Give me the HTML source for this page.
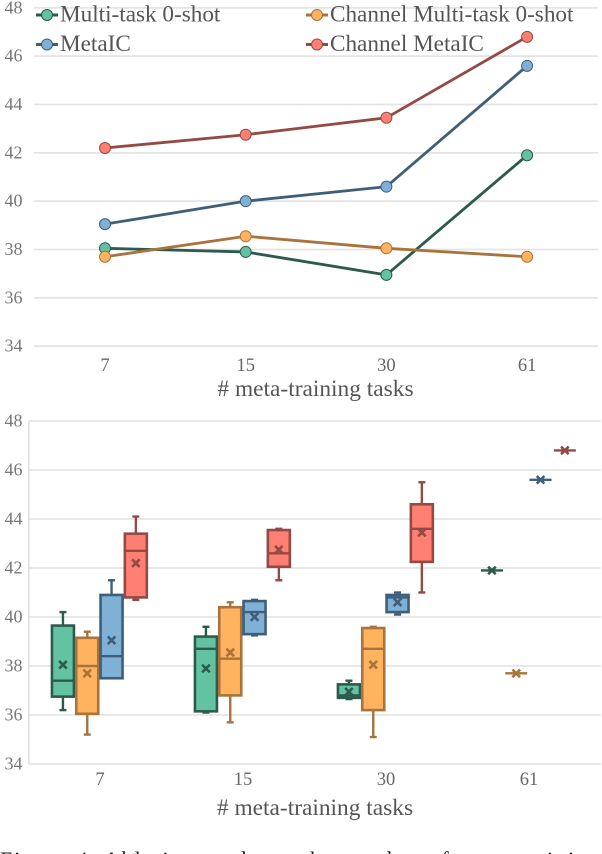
<!DOCTYPE html>
<html>
<head>
<meta charset="utf-8">
<title>Meta-training tasks charts</title>
<style>
html,body{margin:0;padding:0;background:#fff;width:602px;height:854px;overflow:hidden}
svg{display:block;font-family:"Liberation Serif",serif}
</style>
</head>
<body>
<svg id="root" width="602" height="854" viewBox="0 0 602 854" xmlns="http://www.w3.org/2000/svg">
  <text x="0" y="867" font-size="22" fill="#222" textLength="600">Figure 4: Ablation study on the number of meta-training</text>
</svg>
<script>
const categories = ['7', '15', '30', '61'];
const yTicks = [34, 36, 38, 40, 42, 44, 46, 48];
const seriesNames = ['Multi-task 0-shot', 'Channel Multi-task 0-shot', 'MetaIC', 'Channel MetaIC'];
const fills = ['#62c2a2', '#ffb35f', '#7fb0d6', '#ff7f72'];
const strokes = ['#2d5a4d', '#a8733c', '#3f5f78', '#944a44'];

const lineMultiTask = [38.05, 37.9, 36.95, 41.9];
const lineChannelMultiTask = [37.7, 38.55, 38.05, 37.7];
const lineMetaIC = [39.05, 40.0, 40.6, 45.6];
const lineChannelMetaIC = [42.2, 42.75, 43.45, 46.8];
const lineSeries = [lineMultiTask, lineChannelMultiTask, lineMetaIC, lineChannelMetaIC];

// each row: low whisker, q1, median, q3, high whisker, mean
const boxMultiTask = [[36.2,36.75,37.4,39.65,40.2,38.05],[36.1,36.15,38.7,39.2,39.6,37.9],[36.65,36.7,36.8,37.25,37.4,36.95],[41.9,41.9,41.9,41.9,41.9,41.9]];
const boxChannelMultiTask = [[35.2,36.05,38,39.15,39.4,37.7],[35.7,36.8,38.3,40.4,40.6,38.55],[35.1,36.2,38.7,39.55,39.6,38.05],[37.7,37.7,37.7,37.7,37.7,37.7]];
const boxMetaIC = [[37.5,37.5,38.4,40.9,41.5,39.05],[39.25,39.3,40.2,40.65,40.7,40.0],[40.1,40.2,40.8,40.9,41.0,40.6],[45.6,45.6,45.6,45.6,45.6,45.6]];
const boxChannelMetaIC = [[40.7,40.8,42.7,43.4,44.1,42.2],[41.5,42.05,42.6,43.55,43.6,42.75],[41.0,42.25,43.6,44.6,45.5,43.45],[46.8,46.8,46.8,46.8,46.8,46.8]];
const boxSeries = [boxMultiTask, boxChannelMultiTask, boxMetaIC, boxChannelMetaIC];

const NS = 'http://www.w3.org/2000/svg';
const root = document.getElementById('root');

function mk(tag, attrs, parent, text) {
  const el = document.createElementNS(NS, tag);
  for (const k in attrs) el.setAttribute(k, attrs[k]);
  if (text !== undefined) el.textContent = text;
  (parent || root).appendChild(el);
  return el;
}

// axis functions
function yLine(v) { return 346.2 - (v - 34) * 24.17; }
function xLine(i) { return 105 + i * 140.7; }
function yBox(v) { return 764 - (v - 34) * 24.5; }
function xBox(i, s) { return 100 + i * 143 + (s - 1.5) * 24.3 - 0.6; }

// ---------- top line chart ----------
const lineChart = mk('g', {});



yTicks.forEach(function (t) {
  const grid = mk('line', {x1: 34, x2: 598, y1: yLine(t), y2: yLine(t), stroke: '#e4e4e4', 'stroke-width': 1.8}, lineChart);
  
  
  const lab = mk('text', {x: 22.5, y: yLine(t) + 5.5, 'text-anchor': 'end', 'font-size': 18, fill: '#777'}, lineChart, String(t));
  
  
});

categories.forEach(function (c, i) {
  const lab = mk('text', {x: xLine(i), y: 371, 'text-anchor': 'middle', 'font-size': 18.5, fill: '#666'}, lineChart, c);
  
  
});

const lineTitle = mk('text', {x: 315.5, y: 396, 'text-anchor': 'middle', 'font-size': 23.4, fill: '#555'}, lineChart, '# meta-training tasks');



lineSeries.forEach(function (vals, s) {
  const pts = vals.map(function (v, i) { return xLine(i) + ',' + yLine(v); }).join(' ');
  const line = mk('polyline', {points: pts, fill: 'none', stroke: strokes[s], 'stroke-width': 2.8}, lineChart);
  
  
});
[2, 3, 0, 1].forEach(function (s) {
  lineSeries[s].forEach(function (v, i) {
    const dot = mk('circle', {cx: xLine(i), cy: yLine(v), r: 5.5, fill: fills[s], stroke: strokes[s], 'stroke-width': 1}, lineChart);
    
    
  });
});

// legend
const legendX = [36, 306];
const legendY = [14, 43.5];
seriesNames.forEach(function (name, s) {
  const lx = legendX[s % 2];
  const ly = legendY[s < 2 ? 0 : 1];
  const entry = mk('g', {}, lineChart);
  
  
  mk('line', {x1: lx, x2: lx + 22, y1: ly + 1, y2: ly + 1, stroke: strokes[s], 'stroke-width': 3}, entry);
  mk('circle', {cx: lx + 11, cy: ly + 1, r: 5.5, fill: fills[s], stroke: strokes[s], 'stroke-width': 1}, entry);
  mk('text', {x: lx + 24, y: ly + 7.5, 'font-size': 23.2, fill: '#555'}, entry, name);
});

// ---------- bottom box chart ----------
const boxChart = mk('g', {});



yTicks.forEach(function (t) {
  const grid = mk('line', {x1: 28.5, x2: 601, y1: yBox(t), y2: yBox(t), stroke: '#e8e8e8', 'stroke-width': 2}, boxChart);
  
  
  const lab = mk('text', {x: 22.5, y: yBox(t) + 5.5, 'text-anchor': 'end', 'font-size': 18, fill: '#777'}, boxChart, String(t));
  
  
});
const boxAxis = mk('line', {x1: 28.8, x2: 28.8, y1: yBox(48), y2: yBox(34), stroke: '#e0e0e0', 'stroke-width': 1.6}, boxChart);



categories.forEach(function (c, i) {
  const lab = mk('text', {x: 100 + i * 143, y: 785, 'text-anchor': 'middle', 'font-size': 18.5, fill: '#666'}, boxChart, c);
  
  
});
const boxTitle = mk('text', {x: 315, y: 815, 'text-anchor': 'middle', 'font-size': 23.4, fill: '#555'}, boxChart, '# meta-training tasks');



boxSeries.forEach(function (rows, s) {
  rows.forEach(function (row, i) {
    const low = row[0], q1 = row[1], med = row[2], q3 = row[3], high = row[4], mean = row[5];
    const cx = xBox(i, s);
    const g = mk('g', {}, boxChart);
    
    
    const st = strokes[s];
    mk('line', {x1: cx, x2: cx, y1: yBox(high), y2: yBox(q3), stroke: st, 'stroke-width': 2.4}, g);
    mk('line', {x1: cx, x2: cx, y1: yBox(q1), y2: yBox(low), stroke: st, 'stroke-width': 2.4}, g);
    mk('line', {x1: cx - 3.5, x2: cx + 3.5, y1: yBox(high), y2: yBox(high), stroke: st, 'stroke-width': 2.4}, g);
    mk('line', {x1: cx - 3.5, x2: cx + 3.5, y1: yBox(low), y2: yBox(low), stroke: st, 'stroke-width': 2.4}, g);
    mk('rect', {x: cx - 11, y: yBox(q3), width: 22, height: yBox(q1) - yBox(q3), fill: fills[s], stroke: st, 'stroke-width': 2.6}, g);
    mk('line', {x1: cx - 11, x2: cx + 11, y1: yBox(med), y2: yBox(med), stroke: st, 'stroke-width': 2.4}, g);
    const my = yBox(mean);
    mk('path', {d: 'M' + (cx - 3.8) + ' ' + (my - 3.8) + 'L' + (cx + 3.8) + ' ' + (my + 3.8) + 'M' + (cx + 3.8) + ' ' + (my - 3.8) + 'L' + (cx - 3.8) + ' ' + (my + 3.8), stroke: st, 'stroke-width': 2.6, fill: 'none'}, g);
  });
});
</script>
</body>
</html>
